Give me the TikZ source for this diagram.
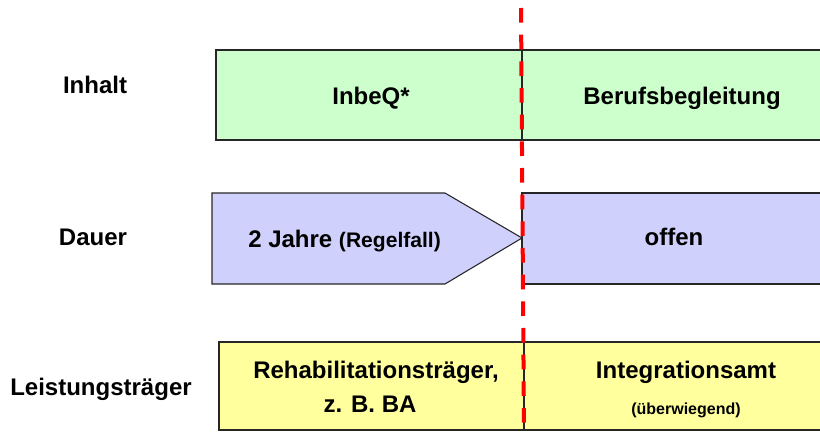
\documentclass[tikz,border=0pt]{standalone}
\usepackage{fontspec}
\setmainfont{Liberation Sans}
\usepackage{xcolor}
\usetikzlibrary{positioning}
\definecolor{inhaltgreen}{RGB}{204,255,204}
\definecolor{dauerblue}{RGB}{208,208,252}
\definecolor{traegeryellow}{RGB}{255,255,158}
\definecolor{cutred}{RGB}{255,0,0}

\begin{document}
\begin{tikzpicture}[x=0.75pt, y=-0.75pt,
    box/.style={draw=black!85, line width=0.8pt},
    rowlabel/.style={font=\fontsize{18}{20}\selectfont\bfseries, inner sep=0pt, anchor=base},
    boxtext/.style={font=\fontsize{18}{20}\selectfont\bfseries, inner sep=0pt, anchor=base},
    smalltext/.style={font=\fontsize{12}{14}\selectfont\bfseries, inner sep=0pt, anchor=base},
    cutline/.style={draw=cutred, line width=3pt, dash pattern=on 11pt off 9pt}]
        \useasboundingbox (0,0) rectangle (820,432);
        \draw[box, fill=inhaltgreen] (216,50) rectangle (830,140);
        \draw[box] (522,50) -- (522,140);
        \draw[box, fill=dauerblue] (212,193) -- (445,193) -- (522,238) -- (445,284) -- (212,284) -- cycle;
        \draw[box, fill=dauerblue] (522,193) rectangle (830,284);
        \draw[box, fill=traegeryellow] (219,342) rectangle (830,430);
        \draw[box] (524,342) -- (524,430);
        \node[rowlabel] (inhalt) at (95,93) {Inhalt};
        \node[rowlabel] (dauer) at (93,245) {Dauer};
        \node[rowlabel] (traeger) at (101,395) {Leistungsträger};
        \node[boxtext] (inbeq) at (371,104) {InbeQ*};
        \node[boxtext] (beruf) at (682,104) {Berufsbegleitung};
        \node[boxtext, anchor=base west] (jahre) at (248,247) {2 Jahre \fontsize{15.8}{17}\selectfont(Regelfall)};
        \node[boxtext] (offen) at (674,245) {offen};
        \node[boxtext] (reha) at (376,378) {Rehabilitationsträger,};
        \node[boxtext] (zbba) at (370,412) {z. B. BA};
        \node[boxtext] (integ) at (686,378) {Integrationsamt};
        \node[smalltext] (ueberw) at (686,414) {(überwiegend)};
        \coordinate (cuttop) at (521,8);
        \coordinate (cutbot) at (524,432);
        \draw[cutline] (cuttop) -- (cutbot);
\end{tikzpicture}
\end{document}
